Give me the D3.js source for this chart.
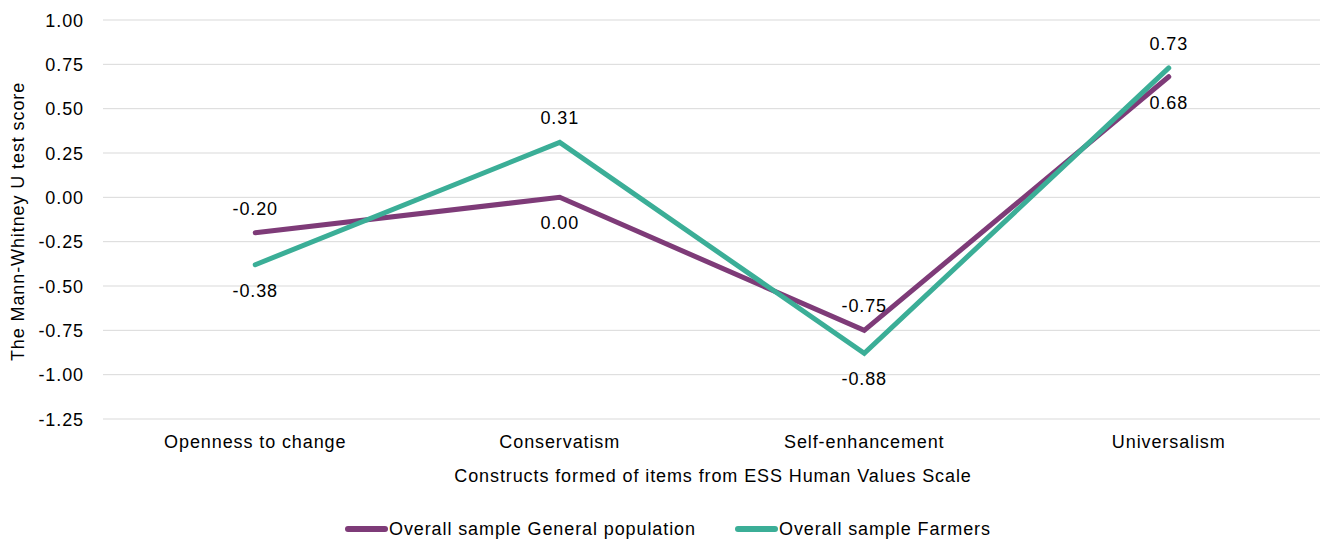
<!DOCTYPE html>
<html>
<head>
<meta charset="utf-8">
<script src="https://cdn.jsdelivr.net/npm/d3@7"></script>
<style>
  html, body { margin: 0; padding: 0; background: #ffffff; }
  svg { display: block; font-family: "Liberation Sans", Arial, Helvetica, sans-serif; }
  svg text { font-size: 18px; letter-spacing: 0.9px; fill: #000; }
</style>
</head>
<body>
<svg id="chart" width="1320" height="540"></svg>
<script>
// Constructs on the x axis
const categories = ["Openness to change", "Conservatism", "Self-enhancement", "Universalism"];
// Mann-Whitney U scores per group
const generalPopulation = [-0.20, 0.00, -0.75, 0.68];
const farmers = [-0.38, 0.31, -0.88, 0.73];
// y axis ticks
const yTicks = [1.00, 0.75, 0.50, 0.25, 0.00, -0.25, -0.50, -0.75, -1.00, -1.25];

const seriesNames = ["Overall sample General population", "Overall sample Farmers"];
const seriesColors = ["#7e3b78", "#3bae97"];

// two decimals with a plain hyphen for negatives
const fmt = v => d3.format(".2f")(v).replace("\u2212", "-");

const svg = d3.select("#chart");
const plot = { left: 103, right: 1321, top: 20, bottom: 419 };

const x = d3.scaleBand().domain(categories).range([plot.left, plot.right]);
const y = d3.scaleLinear().domain([-1.25, 1.00]).range([plot.bottom, plot.top]);
const cx = d => x(d) + x.bandwidth() / 2;

// horizontal grid lines
svg.append("g")
  .selectAll("line")
  .data(yTicks)
  .join("line")
  .attr("x1", plot.left).attr("x2", plot.right)
  .attr("y1", d => y(d)).attr("y2", d => y(d))
  .attr("stroke", "#d9d9d9").attr("stroke-width", 1);

// y axis tick labels
const yAxis = d3.axisLeft(y).tickValues(yTicks).tickFormat(fmt).tickSize(0).tickPadding(0);
const gy = svg.append("g").attr("transform", `translate(${plot.left - 19},0)`).call(yAxis)
  .attr("font-family", null).attr("font-size", null);
gy.select(".domain").remove();
gy.selectAll("text").attr("fill", "#000").attr("dy", "0.35em");

// x axis category labels
const xAxis = d3.axisBottom(x).tickSize(0).tickPadding(0);
const gx = svg.append("g").attr("transform", `translate(0,${plot.bottom + 16})`).call(xAxis)
  .attr("font-family", null).attr("font-size", null);
gx.select(".domain").remove();
gx.selectAll("text").attr("fill", "#000");

// axis titles
svg.append("text")
  .attr("x", (plot.left + plot.right) / 2 + 1).attr("y", 482)
  .attr("text-anchor", "middle").text("Constructs formed of items from ESS Human Values Scale");
svg.append("text")
  .attr("transform", `translate(24,${(plot.top + plot.bottom) / 2 + 2}) rotate(-90)`)
  .attr("text-anchor", "middle").text("The Mann-Whitney U test score");

// lines
const line = d3.line().x((d, i) => cx(categories[i])).y(d => y(d));
const series = [generalPopulation, farmers];
series.forEach((vals, s) => {
  svg.append("path")
    .datum(vals)
    .attr("d", line)
    .attr("fill", "none")
    .attr("stroke", seriesColors[s])
    .attr("stroke-width", 5)
    .attr("stroke-linecap", "round")
    .attr("stroke-linejoin", "miter");
});

// data labels: the higher point of each pair is labelled above, the lower below
categories.forEach((c, i) => {
  const a = generalPopulation[i], b = farmers[i];
  [[a, a >= b], [b, b > a]].forEach(([v, above]) => {
    svg.append("text")
      .attr("x", cx(c))
      .attr("y", above ? y(v) - 18 : y(v) + 32)
      .attr("text-anchor", "middle")
      .text(fmt(v));
  });
});

// legend
const legendX = [345, 735];
seriesNames.forEach((name, s) => {
  const g = svg.append("g").attr("transform", `translate(${legendX[s]},529)`);
  g.append("line").attr("x1", 3).attr("x2", 40).attr("y1", 0).attr("y2", 0)
    .attr("stroke", seriesColors[s]).attr("stroke-width", 6).attr("stroke-linecap", "round");
  g.append("text").attr("x", 44).attr("y", 6).text(name);
});
</script>
</body>
</html>
